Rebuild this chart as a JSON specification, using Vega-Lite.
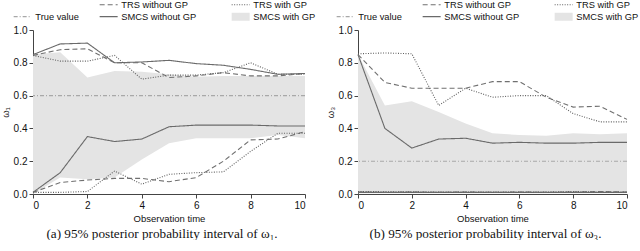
{
  "$schema": "https://vega.github.io/schema/vega-lite/v6.json",
  "padding": {"left": 0, "top": 0, "right": 0, "bottom": 0},
  "background": "white",
  "bounds": "flush",
  "config": {
    "view": {"stroke": null},
    "font": "Liberation Sans",
    "axis": {"grid": false, "domainColor": "#444", "tickColor": "#444", "labelFontSize": 10, "labelColor": "#111", "titleFontSize": 9.5, "titleFontWeight": "normal", "titleColor": "#111", "tickSize": 4, "labelPadding": 2, "titlePadding": 3, "labelOverlap": false},
    "legend": {"orient": "none", "direction": "horizontal", "columns": 3, "symbolType": "stroke", "symbolSize": 324, "labelFontSize": 9.3, "labelColor": "#111", "rowPadding": -10, "columnPadding": 18, "padding": 0, "gridAlign": "each", "labelOffset": 8, "symbolStrokeWidth": 1.1},
    "title": {"font": "Liberation Serif", "fontSize": 13.2, "fontWeight": "normal", "orient": "bottom", "color": "#111", "offset": 5, "dx": -7}
  },
  "datasets": {
    "a_lines": [
      {"s": "SMCS without GP", "b": "hi", "t": 0, "v": 0.85}, {"s": "SMCS without GP", "b": "hi", "t": 1, "v": 0.915}, {"s": "SMCS without GP", "b": "hi", "t": 2, "v": 0.92}, {"s": "SMCS without GP", "b": "hi", "t": 3, "v": 0.80}, {"s": "SMCS without GP", "b": "hi", "t": 4, "v": 0.805}, {"s": "SMCS without GP", "b": "hi", "t": 5, "v": 0.815}, {"s": "SMCS without GP", "b": "hi", "t": 6, "v": 0.795}, {"s": "SMCS without GP", "b": "hi", "t": 7, "v": 0.785}, {"s": "SMCS without GP", "b": "hi", "t": 8, "v": 0.76}, {"s": "SMCS without GP", "b": "hi", "t": 9, "v": 0.73}, {"s": "SMCS without GP", "b": "hi", "t": 10, "v": 0.735},
      {"s": "SMCS without GP", "b": "lo", "t": 0, "v": 0.01}, {"s": "SMCS without GP", "b": "lo", "t": 1, "v": 0.13}, {"s": "SMCS without GP", "b": "lo", "t": 2, "v": 0.35}, {"s": "SMCS without GP", "b": "lo", "t": 3, "v": 0.32}, {"s": "SMCS without GP", "b": "lo", "t": 4, "v": 0.335}, {"s": "SMCS without GP", "b": "lo", "t": 5, "v": 0.41}, {"s": "SMCS without GP", "b": "lo", "t": 6, "v": 0.42}, {"s": "SMCS without GP", "b": "lo", "t": 7, "v": 0.42}, {"s": "SMCS without GP", "b": "lo", "t": 8, "v": 0.42}, {"s": "SMCS without GP", "b": "lo", "t": 9, "v": 0.415}, {"s": "SMCS without GP", "b": "lo", "t": 10, "v": 0.415},
      {"s": "TRS without GP", "b": "hi", "t": 0, "v": 0.845}, {"s": "TRS without GP", "b": "hi", "t": 1, "v": 0.88}, {"s": "TRS without GP", "b": "hi", "t": 2, "v": 0.885}, {"s": "TRS without GP", "b": "hi", "t": 3, "v": 0.80}, {"s": "TRS without GP", "b": "hi", "t": 4, "v": 0.80}, {"s": "TRS without GP", "b": "hi", "t": 5, "v": 0.71}, {"s": "TRS without GP", "b": "hi", "t": 6, "v": 0.72}, {"s": "TRS without GP", "b": "hi", "t": 7, "v": 0.74}, {"s": "TRS without GP", "b": "hi", "t": 8, "v": 0.72}, {"s": "TRS without GP", "b": "hi", "t": 9, "v": 0.72}, {"s": "TRS without GP", "b": "hi", "t": 10, "v": 0.735},
      {"s": "TRS without GP", "b": "lo", "t": 0, "v": 0.01}, {"s": "TRS without GP", "b": "lo", "t": 1, "v": 0.07}, {"s": "TRS without GP", "b": "lo", "t": 2, "v": 0.085}, {"s": "TRS without GP", "b": "lo", "t": 3, "v": 0.095}, {"s": "TRS without GP", "b": "lo", "t": 4, "v": 0.095}, {"s": "TRS without GP", "b": "lo", "t": 5, "v": 0.075}, {"s": "TRS without GP", "b": "lo", "t": 6, "v": 0.10}, {"s": "TRS without GP", "b": "lo", "t": 7, "v": 0.20}, {"s": "TRS without GP", "b": "lo", "t": 8, "v": 0.33}, {"s": "TRS without GP", "b": "lo", "t": 9, "v": 0.335}, {"s": "TRS without GP", "b": "lo", "t": 10, "v": 0.38},
      {"s": "TRS with GP", "b": "hi", "t": 0, "v": 0.845}, {"s": "TRS with GP", "b": "hi", "t": 1, "v": 0.81}, {"s": "TRS with GP", "b": "hi", "t": 2, "v": 0.81}, {"s": "TRS with GP", "b": "hi", "t": 3, "v": 0.845}, {"s": "TRS with GP", "b": "hi", "t": 4, "v": 0.70}, {"s": "TRS with GP", "b": "hi", "t": 5, "v": 0.725}, {"s": "TRS with GP", "b": "hi", "t": 6, "v": 0.725}, {"s": "TRS with GP", "b": "hi", "t": 7, "v": 0.74}, {"s": "TRS with GP", "b": "hi", "t": 8, "v": 0.80}, {"s": "TRS with GP", "b": "hi", "t": 9, "v": 0.73}, {"s": "TRS with GP", "b": "hi", "t": 10, "v": 0.73},
      {"s": "TRS with GP", "b": "lo", "t": 0, "v": 0.01}, {"s": "TRS with GP", "b": "lo", "t": 1, "v": 0.01}, {"s": "TRS with GP", "b": "lo", "t": 2, "v": 0.015}, {"s": "TRS with GP", "b": "lo", "t": 3, "v": 0.14}, {"s": "TRS with GP", "b": "lo", "t": 4, "v": 0.06}, {"s": "TRS with GP", "b": "lo", "t": 5, "v": 0.12}, {"s": "TRS with GP", "b": "lo", "t": 6, "v": 0.13}, {"s": "TRS with GP", "b": "lo", "t": 7, "v": 0.135}, {"s": "TRS with GP", "b": "lo", "t": 8, "v": 0.26}, {"s": "TRS with GP", "b": "lo", "t": 9, "v": 0.37}, {"s": "TRS with GP", "b": "lo", "t": 10, "v": 0.37}
    ],
    "a_band": [
      {"t": 0, "lo": 0.0, "hi": 0.85}, {"t": 1, "lo": 0.10, "hi": 0.865}, {"t": 2, "lo": 0.09, "hi": 0.71}, {"t": 3, "lo": 0.10, "hi": 0.75}, {"t": 4, "lo": 0.21, "hi": 0.745}, {"t": 5, "lo": 0.31, "hi": 0.73}, {"t": 6, "lo": 0.34, "hi": 0.715}, {"t": 7, "lo": 0.34, "hi": 0.72}, {"t": 8, "lo": 0.34, "hi": 0.72}, {"t": 9, "lo": 0.36, "hi": 0.72}, {"t": 10, "lo": 0.34, "hi": 0.72}
    ],
    "a_truth": [{"s": "True value", "v": 0.6}],
    "b_lines": [
      {"s": "SMCS without GP", "b": "hi", "t": 0, "v": 0.85}, {"s": "SMCS without GP", "b": "hi", "t": 1, "v": 0.40}, {"s": "SMCS without GP", "b": "hi", "t": 2, "v": 0.28}, {"s": "SMCS without GP", "b": "hi", "t": 3, "v": 0.335}, {"s": "SMCS without GP", "b": "hi", "t": 4, "v": 0.34}, {"s": "SMCS without GP", "b": "hi", "t": 5, "v": 0.31}, {"s": "SMCS without GP", "b": "hi", "t": 6, "v": 0.315}, {"s": "SMCS without GP", "b": "hi", "t": 7, "v": 0.31}, {"s": "SMCS without GP", "b": "hi", "t": 8, "v": 0.31}, {"s": "SMCS without GP", "b": "hi", "t": 9, "v": 0.315}, {"s": "SMCS without GP", "b": "hi", "t": 10, "v": 0.315},
      {"s": "SMCS without GP", "b": "lo", "t": 0, "v": 0.01}, {"s": "SMCS without GP", "b": "lo", "t": 1, "v": 0.01}, {"s": "SMCS without GP", "b": "lo", "t": 2, "v": 0.01}, {"s": "SMCS without GP", "b": "lo", "t": 3, "v": 0.01}, {"s": "SMCS without GP", "b": "lo", "t": 4, "v": 0.01}, {"s": "SMCS without GP", "b": "lo", "t": 5, "v": 0.01}, {"s": "SMCS without GP", "b": "lo", "t": 6, "v": 0.01}, {"s": "SMCS without GP", "b": "lo", "t": 7, "v": 0.01}, {"s": "SMCS without GP", "b": "lo", "t": 8, "v": 0.01}, {"s": "SMCS without GP", "b": "lo", "t": 9, "v": 0.01}, {"s": "SMCS without GP", "b": "lo", "t": 10, "v": 0.01},
      {"s": "TRS without GP", "b": "hi", "t": 0, "v": 0.85}, {"s": "TRS without GP", "b": "hi", "t": 1, "v": 0.68}, {"s": "TRS without GP", "b": "hi", "t": 2, "v": 0.645}, {"s": "TRS without GP", "b": "hi", "t": 3, "v": 0.645}, {"s": "TRS without GP", "b": "hi", "t": 4, "v": 0.645}, {"s": "TRS without GP", "b": "hi", "t": 5, "v": 0.685}, {"s": "TRS without GP", "b": "hi", "t": 6, "v": 0.685}, {"s": "TRS without GP", "b": "hi", "t": 7, "v": 0.59}, {"s": "TRS without GP", "b": "hi", "t": 8, "v": 0.53}, {"s": "TRS without GP", "b": "hi", "t": 9, "v": 0.535}, {"s": "TRS without GP", "b": "hi", "t": 10, "v": 0.455},
      {"s": "TRS without GP", "b": "lo", "t": 0, "v": 0.012}, {"s": "TRS without GP", "b": "lo", "t": 1, "v": 0.01}, {"s": "TRS without GP", "b": "lo", "t": 2, "v": 0.012}, {"s": "TRS without GP", "b": "lo", "t": 3, "v": 0.01}, {"s": "TRS without GP", "b": "lo", "t": 4, "v": 0.012}, {"s": "TRS without GP", "b": "lo", "t": 5, "v": 0.01}, {"s": "TRS without GP", "b": "lo", "t": 6, "v": 0.012}, {"s": "TRS without GP", "b": "lo", "t": 7, "v": 0.01}, {"s": "TRS without GP", "b": "lo", "t": 8, "v": 0.012}, {"s": "TRS without GP", "b": "lo", "t": 9, "v": 0.015}, {"s": "TRS without GP", "b": "lo", "t": 10, "v": 0.012},
      {"s": "TRS with GP", "b": "hi", "t": 0, "v": 0.855}, {"s": "TRS with GP", "b": "hi", "t": 1, "v": 0.86}, {"s": "TRS with GP", "b": "hi", "t": 2, "v": 0.855}, {"s": "TRS with GP", "b": "hi", "t": 3, "v": 0.54}, {"s": "TRS with GP", "b": "hi", "t": 4, "v": 0.645}, {"s": "TRS with GP", "b": "hi", "t": 5, "v": 0.59}, {"s": "TRS with GP", "b": "hi", "t": 6, "v": 0.60}, {"s": "TRS with GP", "b": "hi", "t": 7, "v": 0.60}, {"s": "TRS with GP", "b": "hi", "t": 8, "v": 0.49}, {"s": "TRS with GP", "b": "hi", "t": 9, "v": 0.44}, {"s": "TRS with GP", "b": "hi", "t": 10, "v": 0.44},
      {"s": "TRS with GP", "b": "lo", "t": 0, "v": 0.015}, {"s": "TRS with GP", "b": "lo", "t": 1, "v": 0.014}, {"s": "TRS with GP", "b": "lo", "t": 2, "v": 0.013}, {"s": "TRS with GP", "b": "lo", "t": 3, "v": 0.012}, {"s": "TRS with GP", "b": "lo", "t": 4, "v": 0.012}, {"s": "TRS with GP", "b": "lo", "t": 5, "v": 0.012}, {"s": "TRS with GP", "b": "lo", "t": 6, "v": 0.012}, {"s": "TRS with GP", "b": "lo", "t": 7, "v": 0.012}, {"s": "TRS with GP", "b": "lo", "t": 8, "v": 0.015}, {"s": "TRS with GP", "b": "lo", "t": 9, "v": 0.012}, {"s": "TRS with GP", "b": "lo", "t": 10, "v": 0.012}
    ],
    "b_band": [
      {"t": 0, "lo": 0.005, "hi": 0.85}, {"t": 1, "lo": 0.005, "hi": 0.54}, {"t": 2, "lo": 0.005, "hi": 0.565}, {"t": 3, "lo": 0.005, "hi": 0.50}, {"t": 4, "lo": 0.005, "hi": 0.43}, {"t": 5, "lo": 0.005, "hi": 0.37}, {"t": 6, "lo": 0.005, "hi": 0.36}, {"t": 7, "lo": 0.005, "hi": 0.355}, {"t": 8, "lo": 0.005, "hi": 0.37}, {"t": 9, "lo": 0.005, "hi": 0.365}, {"t": 10, "lo": 0.005, "hi": 0.37}
    ],
    "b_truth": [{"s": "True value", "v": 0.2}]
  },
  "hconcat": [
    {
      "width": 272, "height": 164,
      "title": {"text": "(a) 95% posterior probability interval of ω₁."},
      "layer": [
        {"data": {"name": "a_band"}, "mark": {"type": "area", "color": "#e4e4e4"},
         "encoding": {"x": {"field": "t", "type": "quantitative", "scale": {"domain": [0, 10], "nice": false}, "axis": {"values": [0, 2, 4, 6, 8, 10], "title": "Observation time"}},
                      "y": {"field": "hi", "type": "quantitative", "scale": {"domain": [0, 1], "nice": false}, "axis": {"values": [0, 0.2, 0.4, 0.6, 0.8, 1.0], "format": ".1f", "title": "ω₁", "labelOverlap": false, "tickCount": 6}},
                      "y2": {"field": "lo"}}},
        {"data": {"name": "a_truth"}, "mark": {"type": "rule", "strokeWidth": 1.1},
         "encoding": {"y": {"field": "v", "type": "quantitative"},
                      "color": {"field": "s", "type": "nominal", "title": null, "scale": {"domain": [" ", "TRS without GP", "TRS with GP", "True value", "SMCS without GP", "SMCS with GP"], "range": ["rgba(0,0,0,0)", "#707070", "#606060", "#a8a8a8", "#6a6a6a", "#e4e4e4"]},
                                "legend": {"legendX": -15, "legendY": -30, "encode": {"symbols": {"update": {"strokeWidth": {"signal": "datum.value === 'SMCS with GP' ? 8 : 1.1"}}}}}},
                      "strokeDash": {"field": "s", "type": "nominal", "title": null, "scale": {"domain": [" ", "TRS without GP", "TRS with GP", "True value", "SMCS without GP", "SMCS with GP"], "range": [[1, 0], [5, 3], [1, 1.5], [4, 2, 1, 2], [1, 0], [1, 0]]}}}},
        {"data": {"name": "a_lines"}, "mark": {"type": "line", "strokeWidth": 1.1},
         "encoding": {"x": {"field": "t", "type": "quantitative"},
                      "y": {"field": "v", "type": "quantitative"},
                      "detail": {"field": "b"},
                      "color": {"field": "s", "type": "nominal"},
                      "strokeDash": {"field": "s", "type": "nominal"}}}
      ]
    },
    {
      "width": 269, "height": 164,
      "title": {"text": "(b) 95% posterior probability interval of ω₃."},
      "layer": [
        {"data": {"name": "b_band"}, "mark": {"type": "area", "color": "#e4e4e4"},
         "encoding": {"x": {"field": "t", "type": "quantitative", "scale": {"domain": [0, 10], "nice": false}, "axis": {"values": [0, 2, 4, 6, 8, 10], "title": "Observation time"}},
                      "y": {"field": "hi", "type": "quantitative", "scale": {"domain": [0, 1], "nice": false}, "axis": {"values": [0, 0.2, 0.4, 0.6, 0.8, 1.0], "format": ".1f", "title": "ω₃", "labelOverlap": false, "tickCount": 6}},
                      "y2": {"field": "lo"}}},
        {"data": {"name": "b_truth"}, "mark": {"type": "rule", "strokeWidth": 1.1},
         "encoding": {"y": {"field": "v", "type": "quantitative"},
                      "color": {"field": "s", "type": "nominal", "title": null, "scale": {"domain": [" ", "TRS without GP", "TRS with GP", "True value", "SMCS without GP", "SMCS with GP"], "range": ["rgba(0,0,0,0)", "#707070", "#606060", "#a8a8a8", "#6a6a6a", "#e4e4e4"]},
                                "legend": {"legendX": -17, "legendY": -30, "encode": {"symbols": {"update": {"strokeWidth": {"signal": "datum.value === 'SMCS with GP' ? 8 : 1.1"}}}}}},
                      "strokeDash": {"field": "s", "type": "nominal", "title": null, "scale": {"domain": [" ", "TRS without GP", "TRS with GP", "True value", "SMCS without GP", "SMCS with GP"], "range": [[1, 0], [5, 3], [1, 1.5], [4, 2, 1, 2], [1, 0], [1, 0]]}}}},
        {"data": {"name": "b_lines"}, "mark": {"type": "line", "strokeWidth": 1.1},
         "encoding": {"x": {"field": "t", "type": "quantitative"},
                      "y": {"field": "v", "type": "quantitative"},
                      "detail": {"field": "b"},
                      "color": {"field": "s", "type": "nominal"},
                      "strokeDash": {"field": "s", "type": "nominal"}}}
      ]
    }
  ],
  "spacing": 53,
  "resolve": {"scale": {"color": "independent", "strokeDash": "independent", "x": "independent", "y": "independent"}, "legend": {"color": "independent", "strokeDash": "independent"}}
}
